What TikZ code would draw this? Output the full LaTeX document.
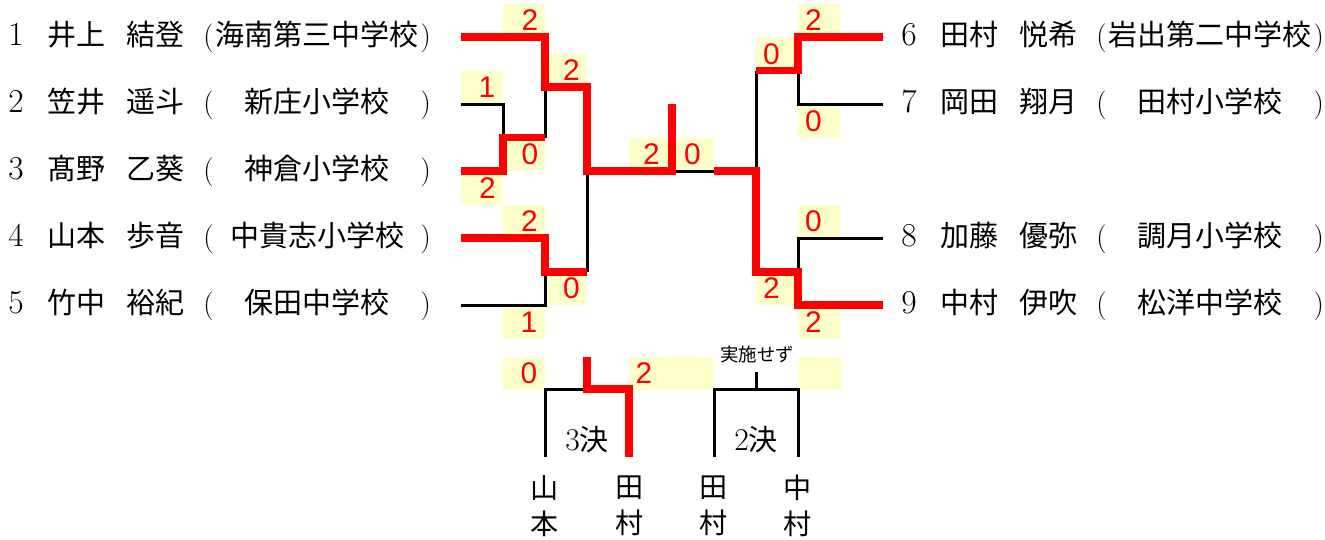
\documentclass[tikz,border=0pt]{standalone}
\usepackage{fontspec}
\newfontfamily\jpfont{Noto Sans CJK JP}
\newfontfamily\scorefont{Liberation Sans}
\definecolor{cellyellow}{RGB}{255,255,204}
\newcommand{\plname}[4]{\makebox[0.78cm][l]{\fontsize{19pt}{20pt}\selectfont #1}\makebox[1.58cm][l]{\jpfont #2}\makebox[1.54cm][l]{\jpfont #3}(\makebox[4.14cm]{\jpfont #4})}
\tikzset{
    entry/.style = {anchor=west, inner sep=0pt, font=\fontsize{16.5pt}{20pt}\selectfont},
    score/.style = {inner sep=0pt, text=red, font=\scorefont\fontsize{17pt}{20pt}\selectfont},
    vname/.style = {inner sep=0pt, align=center, font=\jpfont\fontsize{16pt}{20.4pt}\selectfont},
    lab/.style = {inner sep=0pt, font=\fontsize{18pt}{20pt}\selectfont},
    cell/.style = {fill=cellyellow},
    linek/.style = {line width=1.7pt, black, line join=miter},
    liner/.style = {line width=4.5pt, red, line join=miter}
}
\begin{document}
\begin{tikzpicture}[x=0.02cm, y=-0.02cm]
\useasboundingbox (0,0) rectangle (1325,539);

% score cells
\fill[cell] (503,3.5) rectangle (545,37);
\fill[cell] (545,53.5) rectangle (587,87);
\fill[cell] (461,70.5) rectangle (503,104);
\fill[cell] (503,137.5) rectangle (545,171);
\fill[cell] (461,171) rectangle (503,204.5);
\fill[cell] (503,204.5) rectangle (545,238);
\fill[cell] (545,271.5) rectangle (587,305);
\fill[cell] (503,305) rectangle (545,338.5);
\fill[cell] (629,137.5) rectangle (714,171);
\fill[cell] (798,3.5) rectangle (840,37);
\fill[cell] (756,37) rectangle (798,70.5);
\fill[cell] (798,104) rectangle (840,137.5);
\fill[cell] (798,204.5) rectangle (840,238);
\fill[cell] (756,271.5) rectangle (798,305);
\fill[cell] (798,305) rectangle (840,338.5);
\fill[cell] (503,357) rectangle (545,390);
\fill[cell] (629,357) rectangle (714,390);
\fill[cell] (798,357) rectangle (842,390);

\coordinate (a1) at (461,37);
\coordinate (a2) at (461,104);
\coordinate (a3) at (461,171);
\coordinate (a4) at (461,238);
\coordinate (a5) at (461,305);
\coordinate (b6) at (883,37);
\coordinate (b7) at (883,104);
\coordinate (b8) at (883,238);
\coordinate (b9) at (883,305);
\coordinate (m23) at (503,137.5);
\coordinate (m13) at (545,87);
\coordinate (m45) at (545,272);
\coordinate (ms1) at (587,171);
\coordinate (fin) at (672,171);
\coordinate (champ) at (672,104);
\coordinate (fin2) at (714,171);
\coordinate (ms2) at (756,171);
\coordinate (m67) at (798,70.5);
\coordinate (m89) at (798,272);
\coordinate (t1) at (545,457);
\coordinate (t2) at (629,457);
\coordinate (t3) at (587,389);
\coordinate (t3top) at (587,357);
\coordinate (u1) at (714,457);
\coordinate (u2) at (798,457);
\coordinate (u3) at (756,389);
\coordinate (u3top) at (756,372);

% losers
\draw[linek] (a2) -| (m23);
\draw[linek] (m23 -| m13) -- (m13);
\draw[linek] (a5) -| (m45);
\draw[linek] (m45 -| ms1) -- (ms1);
\draw[linek] (fin) -- (fin2);
\draw[linek] (ms2) -- (ms2 |- m67);
\draw[linek] (b7) -| (m67);
\draw[linek] (b8) -| (m89);
\draw[linek] (t1) |- (t3);
\draw[linek] (u1) |- (u3) -| (u2);
\draw[linek] (u3) -- (u3top);

% winners
\draw[liner] (a3) -| (m23) -- (m23 -| m13);
\draw[liner] (a1) -| (m13) -- (m13 -| ms1) -- (ms1) -- (fin) -- (champ);
\draw[liner] (a4) -| (m45) -- (m45 -| ms1);
\draw[liner] (b6) -| (m67) -- (ms2 |- m67);
\draw[liner] (fin2) -- (ms2) -- (ms2 |- m89) -- (m89) |- (b9);
\draw[liner] (t3top) -- (t3) -| (t2);

\node[entry] at (8,37) (e1) {\plname{1}{井上}{結登}{海南第三中学校}};
\node[entry] at (8,104) (e2) {\plname{2}{笠井}{遥斗}{新庄小学校}};
\node[entry] at (8,171) (e3) {\plname{3}{髙野}{乙葵}{神倉小学校}};
\node[entry] at (8,238) (e4) {\plname{4}{山本}{歩音}{中貴志小学校}};
\node[entry] at (8,305) (e5) {\plname{5}{竹中}{裕紀}{保田中学校}};
\node[entry] at (901,37) (e6) {\plname{6}{田村}{悦希}{岩出第二中学校}};
\node[entry] at (901,104) (e7) {\plname{7}{岡田}{翔月}{田村小学校}};
\node[entry] at (901,238) (e8) {\plname{8}{加藤}{優弥}{調月小学校}};
\node[entry] at (901,305) (e9) {\plname{9}{中村}{伊吹}{松洋中学校}};

\node[score] at (530,20) (s1) {2};
\node[score] at (571.5,70) (s2) {2};
\node[score] at (487,87) (s3) {1};
\node[score] at (530,154) (s4) {0};
\node[score] at (487.5,188) (s5) {2};
\node[score] at (529.5,221) (s6) {2};
\node[score] at (571.5,288) (s7) {0};
\node[score] at (529,322) (s8) {1};
\node[score] at (651.5,154) (s9) {2};
\node[score] at (692.5,154) (s10) {0};
\node[score] at (813.5,20) (s11) {2};
\node[score] at (771.5,54) (s12) {0};
\node[score] at (813.5,121) (s13) {0};
\node[score] at (813.5,221) (s14) {0};
\node[score] at (771.5,288) (s15) {2};
\node[score] at (813.5,322) (s16) {2};
\node[score] at (529,373) (s17) {0};
\node[score] at (644,373) (s18) {2};

\node[inner sep=0pt, font=\jpfont\fontsize{10.5pt}{12pt}\selectfont] at (757,354) (skip) {実施せず};
\node[lab] at (587,440) (k3) {3{\jpfont\fontsize{16.5pt}{20pt}\selectfont 決}};
\node[lab] at (756,440) (k2) {2{\jpfont\fontsize{16.5pt}{20pt}\selectfont 決}};

\node[vname] at (545,506) (n1) {山\\本};
\node[vname] at (630,506) (n2) {田\\村};
\node[vname] at (714,506) (n3) {田\\村};
\node[vname] at (798,506) (n4) {中\\村};

\end{tikzpicture}
\end{document}
